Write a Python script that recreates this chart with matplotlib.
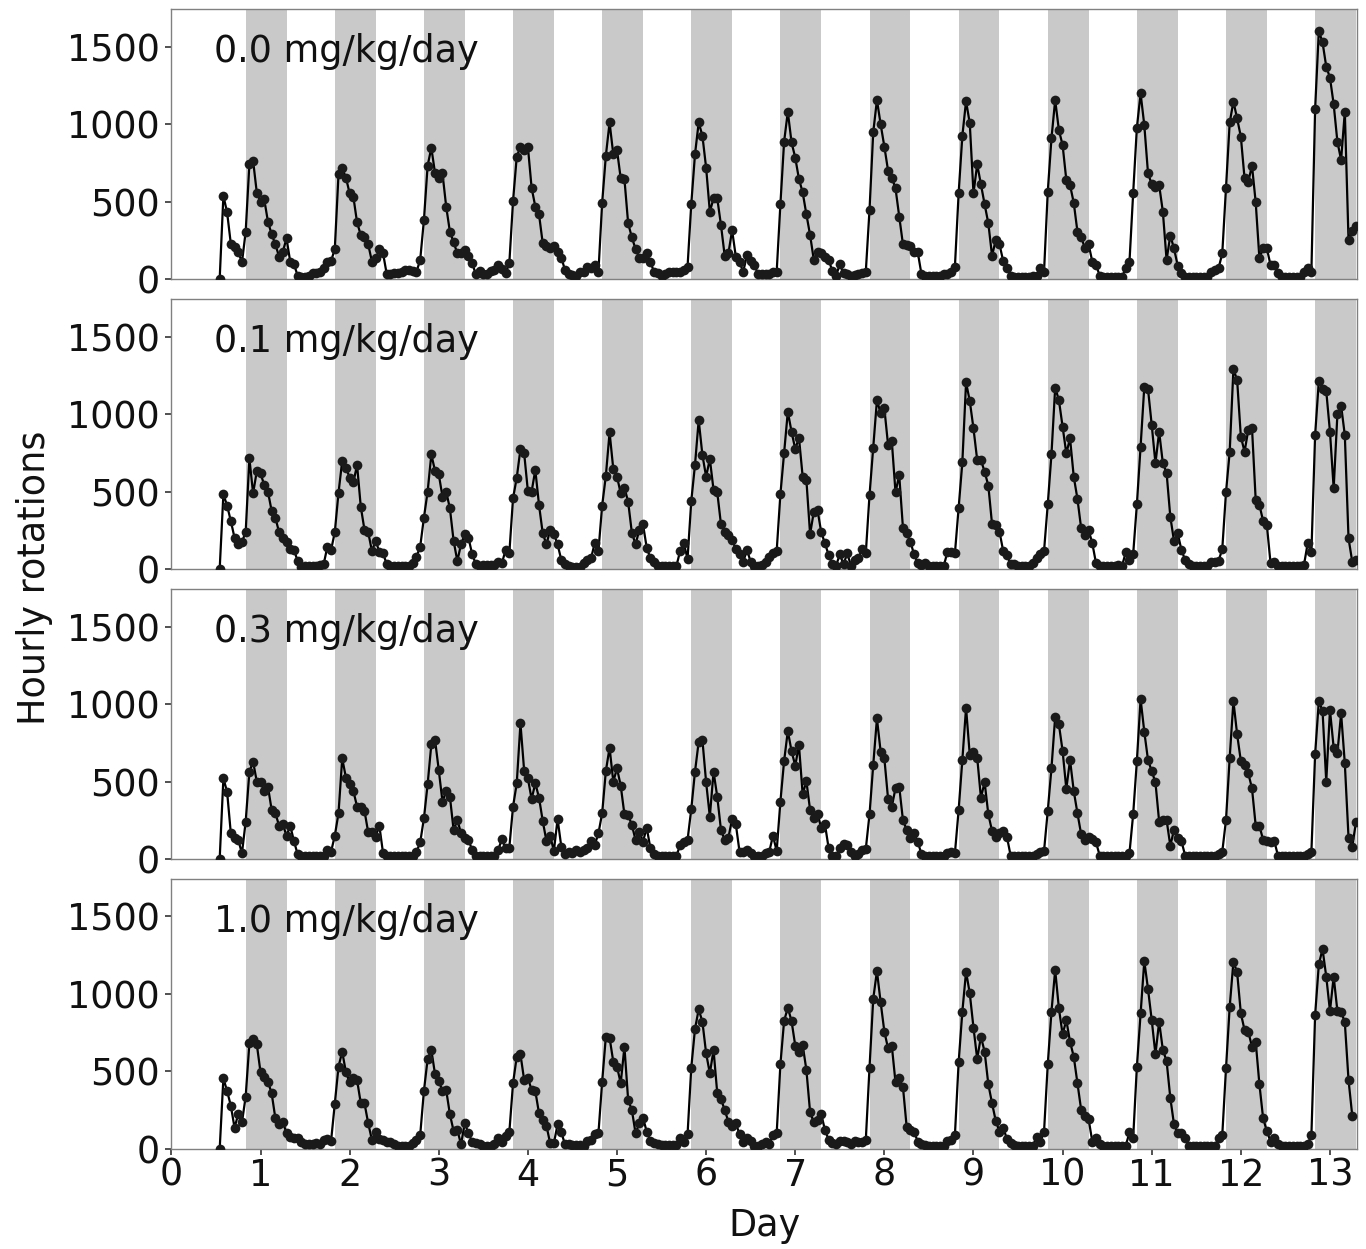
import numpy as np
import matplotlib.pyplot as plt

# hourly wheel rotations, first sample at day 0 13:00, one value per hour
first_hour = 13
dark_on_hour = 20    # lights off 20:00
dark_off_hour = 31   # lights on 07:00 next day
n_days = 13

dose_labels = ['0.0 mg/kg/day', '0.1 mg/kg/day', '0.3 mg/kg/day', '1.0 mg/kg/day']

rot_00 = [
    0, 537, 430, 228, 204, 176, 107,
    305, 740, 763, 557, 500, 514, 370, 288, 224, 144, 176, 262,
    112, 95, 22, 15, 15, 22, 37, 37, 47, 69, 107, 116,
    193, 675, 714, 654, 553, 531, 365, 284, 273, 224, 112, 133,
    193, 166, 30, 30, 37, 37, 47, 58, 58, 52, 47, 123,
    380, 731, 847, 682, 649, 682, 467, 305, 237, 166, 166, 187,
    150, 101, 30, 54, 30, 30, 52, 58, 90, 65, 37, 101,
    503, 789, 854, 832, 854, 589, 467, 417, 230, 215, 198, 215,
    176, 138, 58, 30, 26, 22, 47, 47, 80, 69, 90, 47,
    492, 796, 1010, 804, 832, 649, 645, 359, 269, 193, 138, 133,
    166, 107, 47, 37, 22, 30, 47, 47, 47, 47, 58, 80,
    484, 804, 1010, 924, 718, 434, 520, 520, 348, 150, 166, 314,
    144, 107, 47, 155, 116, 90, 30, 30, 30, 30, 47, 47,
    482, 886, 1079, 882, 783, 645, 559, 417, 284, 123, 176, 166,
    144, 123, 52, 22, 95, 37, 30, 22, 26, 30, 37, 47,
    445, 946, 1155, 998, 854, 699, 654, 585, 402, 224, 219, 215,
    176, 172, 30, 22, 22, 22, 22, 22, 30, 30, 47, 80,
    553, 923, 1148, 1004, 553, 740, 611, 482, 359, 150, 252, 224,
    116, 69, 22, 15, 15, 15, 15, 15, 22, 22, 69, 47,
    563, 907, 1155, 961, 864, 639, 606, 492, 305, 273, 198, 224,
    112, 90, 22, 15, 15, 15, 15, 15, 15, 69, 107, 553,
    976, 1198, 993, 682, 611, 596, 606, 434, 123, 280, 198, 86,
    37, 15, 15, 15, 15, 15, 15, 15, 47, 58, 69, 166,
    585, 1010, 1144, 1036, 918, 649, 628, 731, 495, 133, 202, 198,
    90, 90, 37, 15, 15, 15, 15, 15, 15, 47, 69, 47,
    1097, 1600, 1527, 1370, 1299, 1127, 886, 768, 1079, 250, 310, 340,
]

rot_01 = [
    0, 482, 409, 310, 202, 159, 176,
    237, 714, 488, 632, 617, 542, 499, 374, 331, 237, 202, 176,
    129, 123, 52, 15, 20, 20, 20, 20, 26, 30, 144, 123,
    237, 492, 697, 654, 589, 559, 671, 402, 252, 237, 116, 181,
    112, 101, 30, 22, 20, 20, 20, 20, 20, 37, 80, 144,
    331, 499, 740, 632, 611, 467, 499, 391, 181, 52, 159, 224,
    202, 95, 30, 22, 26, 26, 26, 26, 47, 37, 123, 101,
    456, 589, 774, 746, 503, 499, 639, 413, 230, 159, 252, 224,
    159, 58, 30, 22, 15, 15, 15, 37, 58, 69, 166, 116,
    409, 602, 882, 645, 596, 488, 525, 434, 234, 159, 252, 288,
    138, 69, 47, 22, 20, 20, 20, 20, 20, 116, 166, 65,
    439, 671, 961, 735, 596, 710, 510, 495, 288, 237, 219, 187,
    129, 95, 47, 123, 47, 22, 22, 26, 47, 80, 101, 116,
    482, 746, 1015, 886, 774, 847, 596, 574, 224, 370, 380, 237,
    166, 90, 30, 22, 95, 30, 101, 22, 58, 69, 129, 101,
    477, 783, 1090, 1004, 1036, 800, 826, 495, 606, 267, 230, 176,
    95, 37, 26, 37, 22, 20, 20, 20, 20, 112, 107, 101,
    391, 688, 1204, 1084, 907, 703, 703, 628, 538, 288, 284, 241,
    116, 90, 30, 30, 20, 20, 20, 20, 37, 69, 95, 116,
    417, 740, 1170, 1090, 916, 746, 843, 596, 452, 262, 219, 252,
    166, 37, 20, 20, 20, 20, 20, 26, 20, 107, 58, 95,
    417, 789, 1176, 1161, 929, 682, 886, 682, 621, 338, 181, 230,
    123, 58, 30, 20, 20, 20, 20, 20, 47, 47, 52, 129,
    495, 757, 1290, 1219, 854, 757, 897, 912, 445, 413, 310, 284,
    37, 47, 22, 20, 20, 20, 20, 20, 20, 26, 166, 107,
    864, 1213, 1161, 1148, 886, 520, 998, 1054, 864, 198, 47, 60,
]

rot_03 = [
    0, 520, 434, 166, 133, 123, 37,
    241, 563, 628, 499, 495, 439, 467, 316, 295, 215, 224, 150,
    215, 116, 30, 20, 20, 20, 20, 20, 20, 20, 58, 47,
    150, 295, 649, 525, 482, 439, 338, 338, 310, 172, 172, 144,
    215, 37, 20, 20, 20, 20, 20, 20, 20, 20, 47, 107,
    262, 482, 740, 768, 574, 370, 439, 402, 187, 252, 166, 138,
    123, 58, 22, 20, 20, 20, 20, 20, 58, 129, 69, 73,
    338, 488, 875, 568, 520, 387, 488, 396, 245, 116, 150, 52,
    258, 80, 30, 47, 37, 58, 47, 58, 69, 116, 90, 166,
    295, 568, 718, 499, 585, 473, 288, 284, 219, 123, 176, 112,
    202, 69, 30, 20, 20, 20, 20, 20, 20, 90, 107, 123,
    322, 563, 757, 768, 495, 273, 563, 402, 187, 123, 138, 258,
    224, 47, 47, 58, 37, 22, 22, 22, 37, 47, 150, 52,
    370, 632, 826, 697, 602, 735, 417, 503, 316, 262, 288, 202,
    224, 69, 22, 22, 69, 95, 90, 47, 22, 30, 58, 65,
    288, 606, 907, 692, 649, 387, 338, 456, 467, 252, 187, 138,
    166, 112, 30, 20, 20, 20, 20, 20, 20, 37, 47, 37,
    316, 639, 976, 671, 692, 654, 396, 495, 288, 181, 144, 166,
    181, 144, 22, 20, 20, 20, 20, 20, 20, 30, 47, 52,
    310, 585, 918, 869, 697, 452, 639, 439, 295, 159, 123, 144,
    129, 107, 22, 20, 20, 20, 20, 20, 20, 20, 37, 288,
    632, 1032, 821, 639, 568, 495, 241, 252, 252, 86, 187, 133,
    116, 22, 20, 20, 20, 20, 20, 20, 20, 20, 30, 47,
    252, 654, 1019, 804, 632, 606, 553, 456, 215, 215, 123, 116,
    112, 116, 22, 20, 20, 20, 20, 20, 20, 20, 30, 47,
    675, 1019, 955, 499, 961, 718, 682, 940, 617, 138, 80, 237,
]

rot_10 = [
    0, 456, 374, 280, 138, 224, 172,
    338, 682, 710, 675, 495, 467, 434, 359, 198, 159, 176, 101,
    80, 69, 69, 43, 30, 30, 30, 37, 30, 58, 65, 52,
    288, 531, 628, 495, 430, 460, 445, 295, 295, 166, 58, 112,
    65, 58, 47, 43, 30, 22, 20, 20, 20, 37, 58, 90,
    374, 580, 639, 482, 439, 374, 380, 224, 116, 123, 30, 166,
    101, 47, 37, 30, 20, 20, 20, 30, 69, 47, 86, 107,
    424, 596, 611, 445, 460, 380, 374, 230, 187, 150, 37, 37,
    159, 107, 30, 30, 26, 26, 26, 22, 52, 58, 95, 101,
    434, 725, 718, 563, 531, 424, 660, 316, 252, 101, 166, 202,
    112, 52, 37, 30, 25, 25, 25, 25, 25, 73, 47, 95,
    525, 774, 901, 821, 617, 488, 639, 359, 322, 252, 176, 150,
    166, 95, 47, 73, 52, 22, 22, 30, 43, 30, 90, 101,
    546, 826, 912, 826, 667, 628, 671, 510, 237, 172, 187, 224,
    123, 58, 37, 30, 52, 52, 47, 30, 52, 47, 47, 58,
    525, 968, 1148, 946, 757, 649, 667, 430, 456, 402, 144, 123,
    112, 47, 30, 26, 22, 20, 20, 20, 20, 52, 58, 90,
    559, 886, 1144, 1004, 783, 581, 725, 628, 417, 295, 181, 112,
    138, 65, 37, 26, 20, 20, 20, 20, 20, 80, 47, 112,
    546, 886, 1155, 907, 740, 832, 692, 596, 424, 252, 215, 193,
    47, 73, 30, 20, 20, 20, 20, 20, 20, 20, 107, 69,
    531, 875, 1213, 1032, 832, 611, 821, 639, 568, 331, 159, 101,
    101, 69, 20, 20, 20, 20, 20, 20, 20, 20, 69, 90,
    520, 918, 1208, 1140, 875, 768, 757, 660, 692, 417, 198, 116,
    47, 69, 30, 20, 20, 20, 20, 20, 20, 20, 30, 90,
    864, 1191, 1290, 1112, 890, 1112, 890, 886, 817, 445, 215,
]

series = [rot_00, rot_01, rot_03, rot_10]

FS = 26.3
W, H = 1366, 1249

fig, axes = plt.subplots(4, 1, figsize=(W / 100, H / 100), dpi=100, sharex=True)
fig.subplots_adjust(left=171.4 / W, right=1356.7 / W,
                    top=1 - 9 / H, bottom=1 - 1149 / H, hspace=0.074)

for i, (ax, vals, lab) in enumerate(zip(axes, series, dose_labels)):
    hours = first_hour + np.arange(len(vals))
    days = hours / 24.0

    # dark phase shading
    for d in range(n_days):
        ax.axvspan((d * 24 + dark_on_hour) / 24, (d * 24 + dark_off_hour) / 24,
                   color='#c9c9c9', lw=0, zorder=0)

    ax.plot(days, vals, '-', color='black', lw=1.6, zorder=2)
    ax.plot(days, vals, 'o', color='#1a1a1a', ms=7, mew=0, zorder=3)

    ax.set_xlim(0, 13.3)
    ax.set_ylim(0, 1742)
    ax.set_yticks([0, 500, 1000, 1500])
    ax.set_xticks(range(0, 14))

    for sp in ax.spines.values():
        sp.set_color('#808080')
        sp.set_linewidth(1.0)

    ax.tick_params(axis='both', labelsize=FS, length=4.5, width=1.2,
                   color='#333333', labelcolor='#111111')
    ax.tick_params(axis='y', pad=4)
    ax.tick_params(axis='x', pad=1)
    if i < 3:
        # only the bottom facet carries the x axis
        ax.tick_params(axis='x', bottom=False, labelbottom=False)

    ax.text(0.0362, 1 - 52.7 / 270, lab, transform=ax.transAxes,
            fontsize=FS, va='baseline', ha='left', color='#111111')

fig.text(35 / W, 1 - 578 / H, 'Hourly rotations', rotation=90,
         fontsize=FS, ha='center', va='center', color='#111111')
fig.text(765 / W, 1 - 1225 / H, 'Day', fontsize=FS,
         ha='center', va='center', color='#111111')

fig.savefig('out.png', dpi=100)
